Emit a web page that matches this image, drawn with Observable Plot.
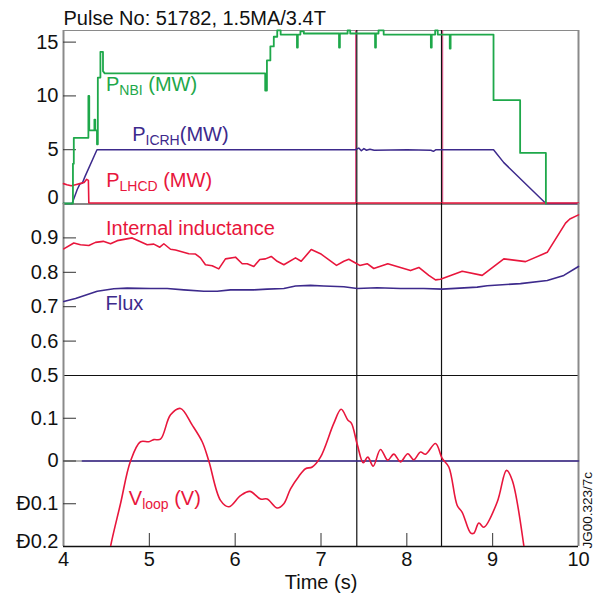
<!DOCTYPE html>
<html><head><meta charset="utf-8">
<script src="https://cdn.jsdelivr.net/npm/d3@7"></script>
<script src="https://cdn.jsdelivr.net/npm/@observablehq/plot@0.6"></script>
<style>
body{margin:0;background:#fff;}
#chart{position:relative;width:595px;height:597px;}
#chart svg{position:absolute;left:0;top:0;overflow:visible;}
</style></head><body><div id="chart"></div>
<script>
// ---------- data ----------
const title = "Pulse No: 51782, 1.5MA/3.4T";
const tDomain = [4, 10];
const xTicks = [4, 5, 6, 7, 8, 9, 10];
const xTickMarks = [5, 6, 7, 8, 9];
const events = [7.417, 8.404];

const pDomain = [0, 16.08];
const pTicks = [5, 10, 15];
const pZero = [0];
const liDomain = [0.5, 1.0];
const liTicks = [0.5, 0.6, 0.7, 0.8, 0.9];
const liTickMarks = [0.6, 0.7, 0.8, 0.9];
const vDomain = [-0.2, 0.2];
const vTicks = [-0.1, 0, 0.1];
const vTickLabels = ["Ð0.1", "0", "0.1"];
const vBottomTick = [-0.2];
const vBottomLabel = ["Ð0.2"];

// P_NBI (MW) [time, power]
const nbi = [[4.00,0],[4.11,0],[4.11,3.7],[4.12,3.7],[4.12,6.1],[4.29,6.1],[4.29,10.0],[4.30,10.0],[4.30,6.8],
 [4.36,6.8],[4.36,7.8],[4.37,7.8],[4.37,6.8],[4.39,6.8],[4.39,5.5],[4.40,5.5],[4.40,11.7],[4.43,11.7],[4.43,14.1],
 [4.46,14.1],[4.46,12.3],[4.48,12.1],[6.35,12.1],[6.35,10.5],[6.37,10.5],[6.37,13.3],[6.41,13.3],[6.41,14.6],
 [6.45,14.6],[6.45,15.5],[6.49,15.5],[6.49,16.1],[6.53,16.1],[6.53,15.7],[6.72,15.7],[6.72,14.5],[6.73,14.5],[6.73,15.7],
 [6.76,15.7],[6.76,16.0],[6.80,16.0],[6.80,15.8],[7.21,15.8],[7.21,14.5],[7.22,14.5],[7.22,15.8],[7.31,15.8],[7.31,16.1],
 [7.34,16.1],[7.34,15.8],[7.63,15.8],[7.63,14.5],[7.64,14.5],[7.64,15.8],[7.67,15.8],[7.67,16.1],[7.73,16.1],[7.73,15.7],
 [8.28,15.7],[8.28,14.5],[8.29,14.5],[8.29,15.7],[8.33,15.7],[8.33,16.1],[8.36,16.1],[8.36,15.7],[8.50,15.7],[8.50,14.4],
 [8.51,14.4],[8.51,15.7],[9.01,15.7],[9.01,9.6],[9.32,9.6],[9.32,4.7],[9.62,4.7],[9.62,0]];
// P_ICRH (MW)
const icrh = [[4.00,0],[4.10,0],[4.16,1.3],[4.19,1.8],[4.22,1.9],[4.25,2.5],[4.39,5.0],[7.40,5.0],[7.44,5.15],[7.47,4.9],
 [7.50,5.1],[7.53,4.95],[7.57,5.05],[7.62,4.95],[8.00,5.0],[8.28,4.95],[8.31,4.85],[8.34,5.0],[9.01,5.0],[9.13,3.8],[9.62,0],[10.00,0]];
// P_LHCD (MW)
const lhcd = [[4.00,1.8],[4.04,1.7],[4.09,1.6],[4.14,1.7],[4.19,1.8],[4.24,1.9],[4.27,2.2],[4.29,2.1],[4.295,0],[10.00,0]];
// Internal inductance
const li = [[4.003,0.868],[4.120,0.885],[4.198,0.880],[4.295,0.878],[4.373,0.887],[4.463,0.890],[4.548,0.883],[4.626,0.892],
 [4.800,0.900],[4.975,0.880],[5.052,0.882],[5.122,0.873],[5.169,0.883],[5.247,0.867],[5.305,0.865],[5.460,0.854],[5.538,0.853],
 [5.596,0.842],[5.654,0.822],[5.732,0.819],[5.809,0.810],[5.887,0.839],[6.004,0.844],[6.082,0.825],[6.140,0.825],[6.217,0.817],
 [6.287,0.837],[6.353,0.839],[6.420,0.846],[6.490,0.832],[6.567,0.822],[6.703,0.842],[6.769,0.832],[6.886,0.866],[6.994,0.854],
 [7.181,0.820],[7.266,0.832],[7.324,0.838],[7.402,0.827],[7.452,0.820],[7.538,0.825],[7.615,0.811],[7.778,0.825],[8.043,0.805],
 [8.140,0.814],[8.256,0.791],[8.334,0.778],[8.392,0.780],[8.645,0.803],[8.878,0.791],[9.130,0.839],[9.383,0.831],[9.636,0.858],
 [9.849,0.943],[9.899,0.955],[10.000,0.967]];
// Flux
const flux = [[4.003,0.715],[4.140,0.724],[4.393,0.745],[4.586,0.752],[4.742,0.754],[5.014,0.753],[5.208,0.753],[5.402,0.749],
 [5.635,0.745],[5.791,0.745],[5.946,0.749],[6.217,0.749],[6.373,0.751],[6.567,0.753],[6.703,0.760],[6.878,0.762],[7.033,0.760],
 [7.266,0.758],[7.422,0.753],[7.655,0.755],[7.926,0.753],[8.198,0.753],[8.412,0.751],[8.820,0.757],[8.936,0.761],[9.324,0.767],
 [9.636,0.776],[9.829,0.791],[10.000,0.817]];
// V_loop (V)
const vloop = [[4.50,-0.26],[4.548,-0.200],[4.664,-0.100],[4.781,0.000],[4.897,0.045],[4.994,0.045],[5.052,0.050],[5.130,0.051],
 [5.247,0.108],[5.363,0.123],[5.500,0.084],[5.616,0.045],[5.693,0.000],[5.829,-0.092],[5.926,-0.107],[6.062,-0.081],[6.171,-0.071],
 [6.295,-0.089],[6.373,-0.089],[6.490,-0.110],[6.567,-0.100],[6.645,-0.065],[6.741,-0.036],[6.820,-0.018],[6.898,-0.014],
 [6.994,0.009],[7.149,0.088],[7.235,0.121],[7.312,0.096],[7.355,0.088],[7.422,0.039],[7.492,-0.004],[7.545,0.009],[7.608,-0.012],
 [7.693,0.027],[7.778,0.002],[7.848,0.016],[7.926,-0.002],[8.011,0.017],[8.081,0.003],[8.159,0.021],[8.218,0.016],[8.334,0.041],
 [8.412,0.006],[8.489,-0.014],[8.587,-0.104],[8.645,-0.120],[8.742,-0.168],[8.780,-0.169],[8.839,-0.145],[8.897,-0.155],
 [9.053,-0.096],[9.161,-0.022],[9.228,-0.045],[9.363,-0.198],[9.40,-0.26]];
const vref = [[4.22,0],[10.00,0]];

// annotations: text and anchor (time, value)
const topLabels = ["P_{NBI} (MW)", "P_{ICRH}(MW)", "P_{LHCD} (MW)"];
const topLabelAt = [[4.495,10.49],[4.80,5.84],[4.497,1.49]];
const midLabels = ["Internal inductance", "Flux"];
const midLabelAt = [[4.495,0.909],[4.489,0.691]];
const botLabels = ["V_{loop} (V)"];
const botLabelAt = [[4.761,-0.104]];
const xLabel = "Time (s)";
const figId = "JG00.323/7c";

// ---------- styling ----------
const green = "#1ea84a", purple = "#3d2a8c", red = "#e8163c", pink = "#e0457f";
const font = "'Liberation Sans', Arial, Helvetica, sans-serif";
const FS = 20;
const W = 595, H = 597;
const asObj = a => a.map(([t, v]) => ({t, v}));
const common = {
  width: W, height: H, marginLeft: 63, marginRight: 17,
  x: {domain: tDomain, axis: null},
  style: {background: "transparent", overflow: "visible", fontFamily: font}
};
const tickW = 515 - 13;
const frameLines = () => [
  Plot.ruleX(tDomain, {stroke: "#8a8a8a", strokeWidth: 2}),
  Plot.ruleX(events, {stroke: "#111", strokeWidth: 1.2})
];
const lab = (texts, at, color) => Plot.text(texts.map((s, i) => ({s, t: at[i][0], v: at[i][1]})), {
  x: "t", y: "v", text: "s", fill: color, fontSize: FS, textAnchor: "start", lineAnchor: "bottom"
});

// ---------- top panel ----------
const p1 = Plot.plot({
  ...common, marginTop: 30, marginBottom: H - 203,
  y: {domain: pDomain, axis: null},
  marks: [
    Plot.ruleY([pDomain[1]], {stroke: "#8a8a8a"}),
    Plot.ruleX(events.slice(0,1), {stroke: pink, strokeWidth: 1, dx: -1.2}),
    Plot.ruleX(events.slice(1), {stroke: pink, strokeWidth: 1, dx: 1.2}),
    ...frameLines(),
    Plot.ruleY(pZero, {stroke: "#111", dy: 0.5}),
    Plot.tickY(pTicks, {y: d => d, insetRight: tickW, stroke: "#333"}),
    Plot.text(pTicks, {y: d => d, text: d => String(d), frameAnchor: "left", textAnchor: "end", dx: -5, fontSize: FS, fill: "#111"}),
    Plot.text(pZero, {y: d => d, text: d => String(d), frameAnchor: "left", textAnchor: "end", dx: -5, dy: -6, fontSize: FS, fill: "#111"}),
    Plot.line(asObj(icrh), {x: "t", y: "v", stroke: purple, strokeWidth: 1.5}),
    Plot.line(asObj(lhcd), {x: "t", y: "v", stroke: red, strokeWidth: 1.6, dy: -0.5}),
    Plot.line(asObj(nbi), {x: "t", y: "v", stroke: green, strokeWidth: 1.8}),
    Plot.text([title], {text: d => d, frameAnchor: "top-left", textAnchor: "start", lineAnchor: "bottom", dy: -6, fontSize: FS, fill: "#111"}),
    lab([topLabels[0]], [topLabelAt[0]], green),
    lab([topLabels[1]], [topLabelAt[1]], purple),
    lab([topLabels[2]], [topLabelAt[2]], red)
  ]
});

// ---------- middle panel ----------
const p2 = Plot.plot({
  ...common, marginTop: 203, marginBottom: H - 375,
  y: {domain: liDomain, axis: null},
  marks: [
    ...frameLines(),
    Plot.ruleY([liDomain[0]], {stroke: "#111"}),
    Plot.tickY(liTickMarks, {y: d => d, insetRight: tickW, stroke: "#333"}),
    Plot.text(liTicks, {y: d => d, text: d => d3.format(".1f")(d), frameAnchor: "left", textAnchor: "end", dx: -5, fontSize: FS, fill: "#111"}),
    Plot.line(asObj(flux), {x: "t", y: "v", stroke: purple, strokeWidth: 1.6}),
    Plot.line(asObj(li), {x: "t", y: "v", stroke: red, strokeWidth: 1.6}),
    lab([midLabels[0]], [midLabelAt[0]], red),
    lab([midLabels[1]], [midLabelAt[1]], purple)
  ]
});

// ---------- bottom panel ----------
const p3 = Plot.plot({
  ...common, marginTop: 375, marginBottom: H - 546,
  y: {domain: vDomain, axis: null},
  marks: [
    Plot.ruleY([0], {stroke: "#999", strokeWidth: 1.5}),
    ...frameLines(),
    Plot.ruleY([vDomain[0]], {stroke: "#111", strokeWidth: 1.5}),
    Plot.tickY(vTicks, {y: d => d, insetRight: tickW, stroke: "#333"}),
    Plot.tickX(xTickMarks, {x: d => d, insetTop: 171 - 13, stroke: "#333"}),
    Plot.text(vTicks, {y: d => d, text: (d, i) => vTickLabels[i], frameAnchor: "left", textAnchor: "end", dx: -5, fontSize: FS, fill: "#111"}),
    Plot.text(vBottomTick, {y: d => d, text: (d, i) => vBottomLabel[i], frameAnchor: "left", textAnchor: "end", dx: -5, dy: -5, fontSize: FS, fill: "#111"}),
    Plot.text(xTicks, {x: d => d, text: d => String(d), frameAnchor: "bottom", lineAnchor: "bottom", dy: 19, fontSize: FS, fill: "#111"}),
    Plot.text([xLabel], {text: d => d, frameAnchor: "bottom", lineAnchor: "bottom", dy: 42, fontSize: FS, fill: "#111"}),
    Plot.text([figId], {text: d => d, frameAnchor: "bottom-right", rotate: -90, textAnchor: "start", lineAnchor: "bottom", dx: 13, dy: 2, fontSize: 13.5, fill: "#111"}),
    Plot.line(asObj(vref), {x: "t", y: "v", stroke: purple, strokeWidth: 1.6}),
    Plot.line(asObj(vloop), {x: "t", y: "v", stroke: red, strokeWidth: 1.6, curve: "catmull-rom", clip: true}),
    lab([botLabels[0]], [botLabelAt[0]], red)
  ]
});

// subscripts: turn "A_{B}C" into tspans
function subscripts(svg) {
  const ns = "http://www.w3.org/2000/svg";
  svg.querySelectorAll("text").forEach(el => {
    const m = el.textContent.match(/^(.*)_\{(.*)\}(.*)$/);
    if (!m) return;
    el.textContent = "";
    const a = document.createElementNS(ns, "tspan"); a.textContent = m[1];
    const b = document.createElementNS(ns, "tspan"); b.textContent = m[2];
    b.setAttribute("font-size", "14"); b.setAttribute("dy", "4");
    const c = document.createElementNS(ns, "tspan"); c.textContent = m[3]; c.setAttribute("dy", "-4");
    el.append(a, b, c);
  });
}
[p1, p2, p3].forEach(s => subscripts(s));
const chart = document.getElementById("chart");
chart.append(p1, p2, p3);
</script>
</body></html>
